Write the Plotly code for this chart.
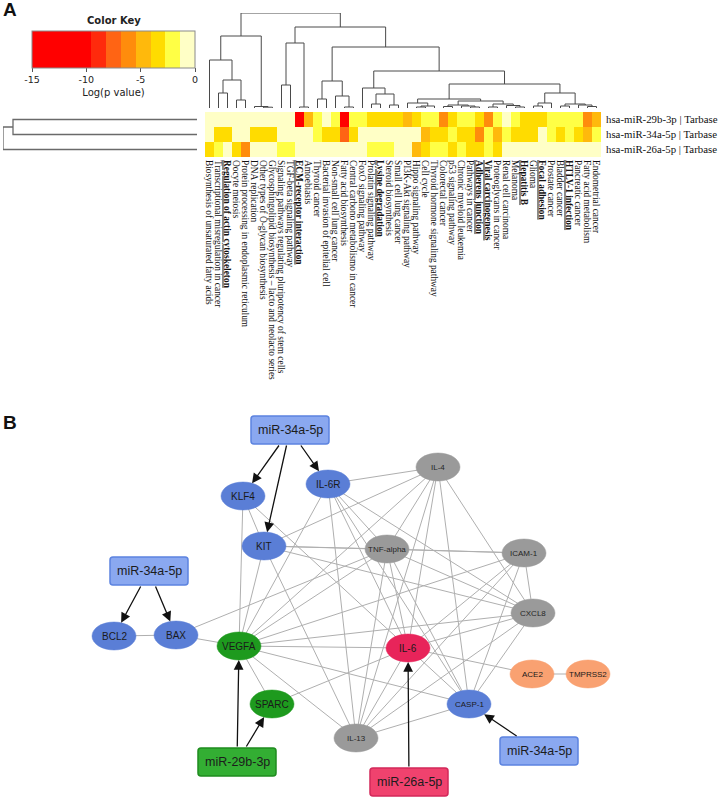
import plotly.graph_objects as go

W, H = 720, 800

# ---------------- DATA: panel A (heatmap) ----------------
pathways = [
    "Biosynthesis of unsaturated fatty acids",
    "Transcriptional misregulation in cancer",
    "Regulation of actin cytoskeleton",
    "Oocyte meiosis",
    "Protein processing in endoplasmic reticulum",
    "DNA replication",
    "Other types of O-glycan biosynthesis",
    "Glycosphingolipid biosynthesis – lacto and neolacto series",
    "Signaling pathways regulating pluripotency of stem cells",
    "TGF-beta signaling pathway",
    "ECM-receptor interaction",
    "Amoebiasis",
    "Thyroid cancer",
    "Bacterial invasion of epitelial cell",
    "Non-small cell lung cancer",
    "Fatty acid biosynthesis",
    "Central carbono metabolismo in cancer",
    "FoxO signaling pathway",
    "Prolatin signaling pathway",
    "Lysine degradation",
    "Steroid biosynthesis",
    "Small cell lung cancer",
    "PI3K-Akt signaling pathway",
    "Hippo signaling pathway",
    "Cell cycle",
    "Thyroid hormone signaling pathway",
    "Colorectal cancer",
    "p53 signaling pathway",
    "Chronic myeloid leukemia",
    "Pathways in cancer",
    "Adherens junction",
    "Viral carcinogenesis",
    "Proteoglycans in cancer",
    "Renal cell carcinoma",
    "Melanoma",
    "Hepatitis B",
    "Glioma",
    "Focal adhesion",
    "Prostate cancer",
    "Bladder cancer",
    "HTLV-1 infection",
    "Pancreatic cancer",
    "Fatty acid metabolism",
    "Endometrial cancer",
]
highlighted = {"Regulation of actin cytoskeleton", "ECM-receptor interaction", "Lysine degradation",
               "Adherens junction", "Viral carcinogenesis", "Hepatitis B", "Focal adhesion",
               "HTLV-1 infection"}

mirna_rows = ["hsa-miR-29b-3p | Tarbase", "hsa-miR-34a-5p | Tarbase", "hsa-miR-26a-5p | Tarbase"]

logp_29b = [-0.5, -0.6, -0.4, -0.7, -0.5, -0.6, -0.5, -0.8, -0.6, -0.7,
            -12.6, -4.9, -2.1, -0.9, -1.9, -10.8, -2.2, -2.0, -3.3, -3.5,
            -3.6, -3.2, -4.7, -3.4, -2.3, -2.0, -6.2, -3.6, -2.4, -2.6,
            -3.5, -6.4, -2.2, -0.8, -1.8, -3.5, -3.3, -3.8, -2.1, -2.4,
            -1.9, -2.2, -6.3, -5.0]
logp_34a = [-0.6, -3.3, -3.5, -0.5, -0.7, -3.4, -3.6, -3.3, -0.6, -0.5,
            -0.7, -0.6, -2.2, -3.4, -3.7, -7.6, -3.0, -0.6, -0.5, -0.7,
            -0.6, -0.5, -0.8, -0.6, -4.6, -3.5, -3.3, -2.1, -3.6, -3.2,
            -6.0, -2.3, -4.9, -2.0, -3.4, -3.6, -3.3, -0.7, -2.2, -3.5,
            -2.0, -3.4, -4.8, -2.3]
logp_26a = [-3.4, -2.1, -0.6, -3.5, -6.0, -0.5, -0.7, -0.6, -2.2, -2.0,
            -0.6, -0.5, -0.7, -0.6, -0.8, -0.5, -0.6, -0.7, -2.1, -2.3,
            -1.9, -0.6, -0.8, -4.9, -3.4, -2.2, -2.0, -3.6, -2.3, -3.4,
            -3.5, -2.1, -3.3, -0.6, -0.5, -0.7, -0.6, -0.5, -0.8, -0.6,
            -0.5, -0.7, -0.6, -0.5]

key_ticks = [-15, -10, -5, 0]
key_colors = ["#FF0000", "#FF2A0C", "#FF6414", "#FF8C0C", "#FFB90C", "#FFDC00", "#FFFF45", "#FFFFC6"]
key_breaks = [0, 4 / 11, 5 / 11, 6 / 11, 7 / 11, 8 / 11, 9 / 11, 10 / 11, 1]

# dendrograms: [merge height, left, right]; leaves are 1-based column / 0-based row numbers
col_tree = [95,
            [72,
             [48, 1, [28, [15, 2, 3], [8, 4, 5]]],
             [1.5, 6, [0.8, 7, 8]]],
            [81,
             [65, [23, 9, 10], [1, 11, 12]],
             [61,
              [27, [9, 13, 14], [12, 15, [1, 16, 17]]],
              [37,
               [20, 18, [14, [4, 19, 20], [3, 21, 22]]],
               [24,
                [9,
                 [5, 23, [2, [1, 24, 25], 26]],
                 [7, [3, [1.5, 27, 28], [2, 29, [1, 30, 31]]],
                     [4, [1, 32, 33], [2.5, 34, [1, 35, 36]]]]],
                [15, [5, [2, 37, 38], 39], [4, [2, 40, 41], [3, 42, [1.5, 43, 44]]]]]]]]]
row_tree = [194, [184, 0, 1], 2]

# ---------------- DATA: panel B (network) ----------------
node_pos = {
    "KLF4": (243, 496), "IL-6R": (328, 484), "KIT": (264, 546), "IL-4": (438, 467),
    "TNF-alpha": (387, 549), "ICAM-1": (524, 553), "CXCL8": (533, 613),
    "BCL2": (114, 636), "BAX": (176, 635), "VEGFA": (239, 646), "IL-6": (408, 648),
    "ACE2": (532, 674), "TMPRSS2": (588, 674), "SPARC": (272, 704), "CASP-1": (469, 704),
    "IL-13": (356, 738),
}
node_group = {
    "KLF4": "blue", "IL-6R": "blue", "KIT": "blue", "BCL2": "blue", "BAX": "blue", "CASP-1": "blue",
    "VEGFA": "green", "SPARC": "green", "IL-6": "red", "ACE2": "orange", "TMPRSS2": "orange",
    "IL-4": "gray", "TNF-alpha": "gray", "ICAM-1": "gray", "CXCL8": "gray", "IL-13": "gray",
}
small_label = {"IL-4", "TNF-alpha", "ICAM-1", "CXCL8", "IL-13", "ACE2", "TMPRSS2", "CASP-1"}
edges = [
    ("BCL2", "BAX"), ("BAX", "VEGFA"), ("BAX", "TNF-alpha"),
    ("KLF4", "KIT"), ("KLF4", "VEGFA"), ("KLF4", "IL-6"),
    ("IL-6R", "IL-4"), ("IL-6R", "VEGFA"), ("IL-6R", "TNF-alpha"), ("IL-6R", "IL-6"),
    ("IL-6R", "IL-13"), ("IL-6R", "CXCL8"), ("IL-6R", "CASP-1"),
    ("KIT", "TNF-alpha"), ("KIT", "ICAM-1"), ("KIT", "IL-4"), ("KIT", "VEGFA"),
    ("KIT", "IL-13"), ("KIT", "CXCL8"),
    ("IL-4", "VEGFA"), ("IL-4", "TNF-alpha"), ("IL-4", "IL-6"), ("IL-4", "IL-13"),
    ("IL-4", "CXCL8"), ("IL-4", "CASP-1"),
    ("TNF-alpha", "VEGFA"), ("TNF-alpha", "ICAM-1"), ("TNF-alpha", "CXCL8"),
    ("TNF-alpha", "IL-6"), ("TNF-alpha", "IL-13"), ("TNF-alpha", "CASP-1"),
    ("ICAM-1", "VEGFA"), ("ICAM-1", "IL-6"), ("ICAM-1", "IL-13"), ("ICAM-1", "CASP-1"),
    ("ICAM-1", "CXCL8"),
    ("CXCL8", "VEGFA"), ("CXCL8", "IL-6"), ("CXCL8", "IL-13"), ("CXCL8", "CASP-1"),
    ("VEGFA", "IL-6"), ("VEGFA", "SPARC"), ("VEGFA", "IL-13"), ("VEGFA", "CASP-1"),
    ("SPARC", "IL-6"), ("IL-6", "IL-13"), ("IL-6", "CASP-1"), ("IL-6", "ACE2"),
    ("ACE2", "TMPRSS2"), ("IL-13", "CASP-1"),
]
mirna_boxes = [
    ("miR-34a-5p", "blue", (290, 430)),
    ("miR-34a-5p", "blue", (149, 571)),
    ("miR-29b-3p", "green", (237, 762)),
    ("miR-26a-5p", "red", (409, 782)),
    ("miR-34a-5p", "blue", (539, 751)),
]
regulation = [(0, "KLF4"), (0, "KIT"), (0, "IL-6R"), (1, "BCL2"), (1, "BAX"),
              (2, "VEGFA"), (2, "SPARC"), (3, "IL-6"), (4, "CASP-1")]

# ---------------- styles ----------------
node_fill = {"blue": "#5A7ED6", "green": "#1E9A1E", "red": "#E8245A", "orange": "#F9A171", "gray": "#9A9A9A"}
box_fill = {"blue": "#8AA8F0", "green": "#33AE33", "red": "#F0426E"}
box_line = {"blue": "#5C83DF", "green": "#1F8C1F", "red": "#D2285A"}
NODE_A, NODE_B = 22, 14   # ellipse half axes (px)
BOX_A, BOX_B = 39, 14     # box half sizes (px)

HM_X0, HM_X1, HM_Y0, HM_Y1 = 205, 601, 112, 157


def px_x(v):
    return v / W


def px_y(v):
    return 1 - v / H


def tree_segments(node, leaf_pos):
    if not isinstance(node, list):
        return leaf_pos(node), 0.0, []
    h, a, b = node
    pa, ha, sa = tree_segments(a, leaf_pos)
    pb, hb, sb = tree_segments(b, leaf_pos)
    seg = [(pa, ha), (pa, h), (pb, h), (pb, hb)]
    return (pa + pb) / 2, h, sa + sb + [seg]


fig = go.Figure()

# heatmap
colorscale = []
for i, c in enumerate(key_colors):
    colorscale.append([key_breaks[i], c])
    colorscale.append([key_breaks[i + 1], c])

fig.add_trace(go.Heatmap(
    z=[logp_29b, logp_34a, logp_26a], x=list(range(len(pathways))), y=[0, 1, 2],
    zmin=-15, zmax=0, colorscale=colorscale, hoverinfo="skip",
    xaxis="x", yaxis="y",
    colorbar=dict(orientation="h", lenmode="pixels", len=163, thicknessmode="pixels", thickness=37,
                  x=px_x(113.5), xanchor="center", y=px_y(31), yanchor="top", xpad=0, ypad=0,
                  outlinewidth=1, outlinecolor="#8a8a8a",
                  tickvals=key_ticks, ticktext=[str(t) for t in key_ticks],
                  ticks="outside", ticklen=4, tickcolor="#555", tickwidth=1,
                  tickfont=dict(family="DejaVu Sans", size=9.5, color="#222"),
                  title=dict(text="Log(p value)", side="bottom",
                             font=dict(family="DejaVu Sans", size=10, color="#222"))),
))

# column dendrogram
_, _, segs = tree_segments(col_tree, lambda leaf: leaf - 1)
dx, dy = [], []
for seg in segs:
    for p, h in seg:
        dx.append(p)
        dy.append(h)
    dx.append(None)
    dy.append(None)
fig.add_trace(go.Scatter(x=dx, y=dy, mode="lines", line=dict(color="#4a4a4a", width=1),
                         hoverinfo="skip", xaxis="x2", yaxis="y2", showlegend=False))

# row dendrogram
_, _, rsegs = tree_segments(row_tree, lambda leaf: leaf)
rx, ry = [], []
for seg in rsegs:
    for p, h in seg:
        rx.append(h)
        ry.append(p)
    rx.append(None)
    ry.append(None)
fig.add_trace(go.Scatter(x=rx, y=ry, mode="lines", line=dict(color="#6a6a6a", width=1.3),
                         hoverinfo="skip", xaxis="x3", yaxis="y3", showlegend=False))

# network edges
ex, ey = [], []
for a, b in edges:
    ex += [node_pos[a][0], node_pos[b][0], None]
    ey += [node_pos[a][1], node_pos[b][1], None]
fig.add_trace(go.Scatter(x=ex, y=ey, mode="lines", line=dict(color="#AFAFAF", width=1),
                         hoverinfo="skip", xaxis="x4", yaxis="y4", showlegend=False))

shapes, annotations = [], []

# nodes
for name, (cx, cy) in node_pos.items():
    g = node_group[name]
    shapes.append(dict(type="circle", xref="x4", yref="y4",
                       x0=cx - NODE_A, x1=cx + NODE_A, y0=cy - NODE_B, y1=cy + NODE_B,
                       fillcolor=node_fill[g], line=dict(color=node_fill[g], width=0.5), layer="above"))
    annotations.append(dict(x=cx, y=cy, xref="x4", yref="y4", text=name, showarrow=False,
                            font=dict(family="Liberation Sans", size=8 if name in small_label else 10,
                                      color="#1a1a1a" if g != "gray" else "#262626")))


def rounded_rect(cx, cy, a, b, r):
    x0, x1, y0, y1 = cx - a, cx + a, cy - b, cy + b
    return (f"M {x0 + r},{y0} L {x1 - r},{y0} Q {x1},{y0} {x1},{y0 + r} "
            f"L {x1},{y1 - r} Q {x1},{y1} {x1 - r},{y1} L {x0 + r},{y1} "
            f"Q {x0},{y1} {x0},{y1 - r} L {x0},{y0 + r} Q {x0},{y0} {x0 + r},{y0} Z")


for label, g, (cx, cy) in mirna_boxes:
    shapes.append(dict(type="path", xref="x4", yref="y4", path=rounded_rect(cx, cy, BOX_A, BOX_B, 3),
                       fillcolor=box_fill[g], line=dict(color=box_line[g], width=1.5), layer="above"))
    annotations.append(dict(x=cx, y=cy, xref="x4", yref="y4", text=label, showarrow=False,
                            font=dict(family="Liberation Sans", size=12.5, color="#1c1c1c")))

# regulation arrows (box edge -> ellipse edge)
for bi, target in regulation:
    bx, by = mirna_boxes[bi][2]
    tx, ty = node_pos[target]
    ddx, ddy = tx - bx, ty - by
    t = min(BOX_A / abs(ddx) if ddx else 1e9, BOX_B / abs(ddy) if ddy else 1e9)
    sx, sy = bx + ddx * t, by + ddy * t
    k = 1 / ((ddx / NODE_A) ** 2 + (ddy / NODE_B) ** 2) ** 0.5
    hx, hy = tx - ddx * k, ty - ddy * k
    annotations.append(dict(x=hx, y=hy, ax=sx, ay=sy, xref="x4", yref="y4", axref="x4", ayref="y4",
                            text="", showarrow=True, arrowhead=2, arrowsize=1.5, arrowwidth=1.3,
                            arrowcolor="#111"))

# titles / panel letters
annotations.append(dict(x=px_x(113.5), y=px_y(20), xref="paper", yref="paper", text="<b>Color Key</b>",
                        xanchor="center", yanchor="middle",
                        showarrow=False, font=dict(family="DejaVu Sans", size=10, color="#222")))
annotations.append(dict(x=px_x(1), y=px_y(10), xref="paper", yref="paper", text="<b>A</b>",
                        xanchor="left", yanchor="middle",
                        showarrow=False, font=dict(family="Liberation Sans", size=19, color="#111")))
annotations.append(dict(x=px_x(1), y=px_y(422), xref="paper", yref="paper", text="<b>B</b>",
                        xanchor="left", yanchor="middle",
                        showarrow=False, font=dict(family="Liberation Sans", size=19, color="#111")))


def fmt(p):
    if p in highlighted:
        return f'<b><span style="text-decoration:underline">{p}</span></b>'
    return p


hidden = dict(visible=False, showgrid=False, zeroline=False)
fig.update_layout(
    width=W, height=H, margin=dict(l=0, r=0, t=0, b=0),
    paper_bgcolor="white", plot_bgcolor="rgba(0,0,0,0)", showlegend=False,
    xaxis=dict(domain=[px_x(HM_X0), px_x(HM_X1)], range=[-0.5, len(pathways) - 0.5], anchor="y",
               tickvals=list(range(len(pathways))), ticktext=[fmt(p) for p in pathways],
               tickangle=90, ticks="", showgrid=False, zeroline=False, showline=False,
               ticklabelstandoff=2,
               tickfont=dict(family="Liberation Serif", size=9.4, color="#111")),
    yaxis=dict(domain=[px_y(HM_Y1), px_y(HM_Y0)], range=[2.5, -0.5], anchor="x", side="right",
               tickvals=[0, 1, 2], ticktext=mirna_rows, ticks="", showgrid=False, zeroline=False,
               ticklabelstandoff=4,
               tickfont=dict(family="Liberation Serif", size=10.8, color="#111")),
    xaxis2=dict(domain=[px_x(HM_X0), px_x(HM_X1)], range=[-0.5, len(pathways) - 0.5], anchor="y2", **hidden),
    yaxis2=dict(domain=[px_y(108), px_y(13)], range=[0, 95], anchor="x2", **hidden),
    xaxis3=dict(domain=[px_x(3), px_x(197)], range=[194, 0], anchor="y3", **hidden),
    yaxis3=dict(domain=[px_y(HM_Y1), px_y(HM_Y0)], range=[2.5, -0.5], anchor="x3", **hidden),
    xaxis4=dict(domain=[0, 1], range=[0, W], anchor="y4", **hidden),
    yaxis4=dict(domain=[0, px_y(384)], range=[H, 384], anchor="x4", **hidden),
    shapes=shapes, annotations=annotations,
)

# the page's default 8px body margin would shift the 720x800 figure; remove it
fig.write_html("out.html", config={"displayModeBar": False},
               post_script="document.body.style.margin='0';")
